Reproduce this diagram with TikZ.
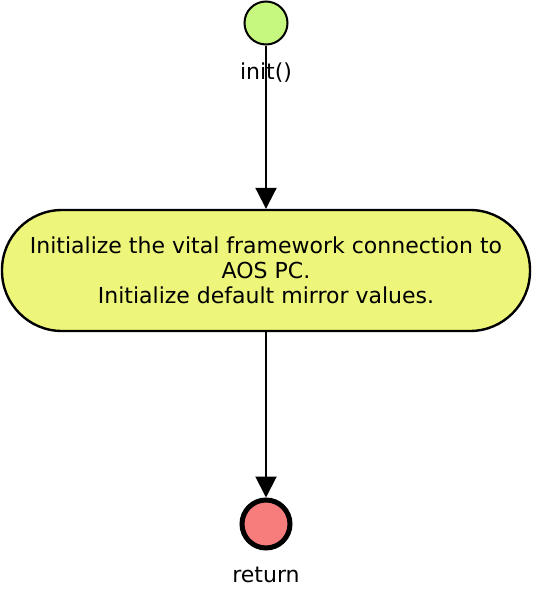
\documentclass[tikz,border=0pt]{standalone}
\usepackage{fontspec}
\setmainfont{DejaVu Sans}
\usetikzlibrary{arrows.meta}
\definecolor{startgreen}{RGB}{198,247,126}
\definecolor{boxyellow}{RGB}{237,245,122}
\definecolor{endred}{RGB}{247,124,124}
\begin{document}
\begin{tikzpicture}[x=1pt,y=-1pt,
  startnode/.style={circle,draw=black,line width=2pt,fill=startgreen,minimum size=43pt,inner sep=0pt},
  endnode/.style={circle,draw=black,line width=5pt,fill=endred,minimum size=48pt,inner sep=0pt},
  actbox/.style={draw=black,line width=2.4pt,fill=boxyellow,rounded corners=60pt,minimum width=528pt,minimum height=121pt,align=center,font=\fontsize{22}{25}\selectfont},
  lbl/.style={font=\fontsize{22}{25}\selectfont,inner sep=0pt},
  flow/.style={line width=2pt,-{Triangle[length=21pt,width=21pt]}}
]
\useasboundingbox (0,0) rectangle (533,600);
\node[startnode] (start) at (266,23) {};
\node[lbl] (initlbl) at (266,73) {init()};
\node[actbox] (act) at (266,270.5) {Initialize the vital framework connection to\\AOS PC.\\Initialize default mirror values.};
\node[endnode] (stop) at (266,524) {};
\node[lbl] (retlbl) at (266,575) {return};
\draw[flow] (start) -- (act);
\draw[flow] (act) -- (stop);
\end{tikzpicture}
\end{document}
